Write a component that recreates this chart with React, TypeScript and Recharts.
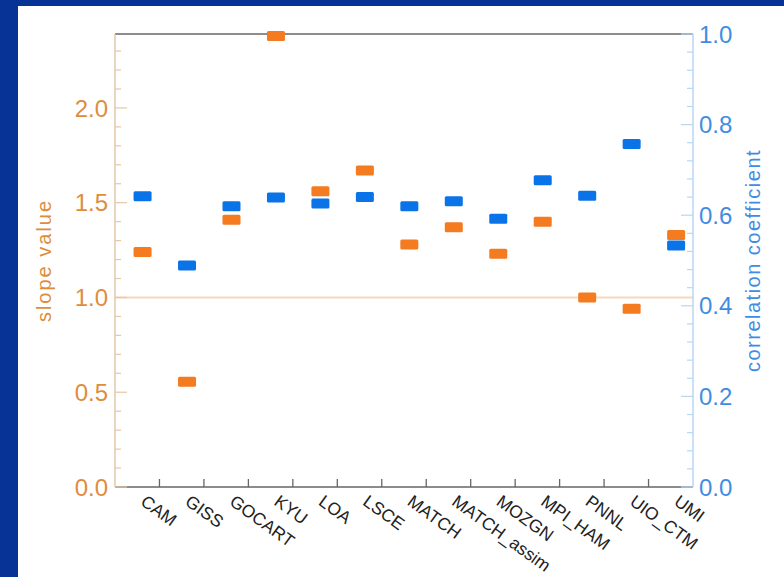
import React from "react";
import {
  ScatterChart,
  Scatter,
  XAxis,
  YAxis,
  ReferenceLine,
} from "recharts";

// models and their values
const models = [
  "CAM",
  "GISS",
  "GOCART",
  "KYU",
  "LOA",
  "LSCE",
  "MATCH",
  "MATCH_assim",
  "MOZGN",
  "MPI_HAM",
  "PNNL",
  "UIO_CTM",
  "UMI",
];
const slopeValues = [1.24, 0.555, 1.41, 2.38, 1.56, 1.67, 1.28, 1.37, 1.23, 1.4, 1.0, 0.94, 1.33];
const corrValues = [0.642, 0.489, 0.62, 0.639, 0.626, 0.64, 0.62, 0.631, 0.592, 0.677, 0.643, 0.757, 0.533];

const slopeMajor = [0, 0.5, 1.0, 1.5, 2.0];
const slopeTicks = [
  0, 0.1, 0.2, 0.3, 0.4, 0.5, 0.6, 0.7, 0.8, 0.9, 1.0, 1.1, 1.2, 1.3, 1.4, 1.5, 1.6, 1.7, 1.8, 1.9,
  2.0, 2.1, 2.2, 2.3,
];
const corrMajor = [0, 0.2, 0.4, 0.6, 0.8, 1.0];
const corrTicks = [
  0, 0.04, 0.08, 0.12, 0.16, 0.2, 0.24, 0.28, 0.32, 0.36, 0.4, 0.44, 0.48, 0.52, 0.56, 0.6, 0.64,
  0.68, 0.72, 0.76, 0.8, 0.84, 0.88, 0.92, 0.96, 1.0,
];
const boundaryTicks = [1, 2, 3, 4, 5, 6, 7, 8, 9, 10, 11, 12];

// marks sit a bit right of the band centre in the original
const OFFSET = 0.62;

const data = models.map((m, i) => ({
  model: m,
  pos: i + OFFSET,
  slope: slopeValues[i],
  corr: corrValues[i],
}));
const labelTicks = data.map((d) => d.pos);

const ORANGE = "#F47B20";
const BLUE = "#0B73E8";
const ORANGE_TXT = "#DE8D3C";
const BLUE_TXT = "#3F8DE2";
const FONT = "'Liberation Sans', Arial, sans-serif";

const isMajor = (v: number, list: number[]) => list.some((m) => Math.abs(m - v) < 1e-6);

const SlopeTick = (props: any) => {
  const { x, y, payload } = props;
  const v = payload.value;
  const major = isMajor(v, slopeMajor);
  return (
    <g>
      <line x1={x} x2={x + (major ? 12 : 6)} y1={y} y2={y} stroke="#E6C7A8" strokeWidth={1.2} />
      {major && (
        <text x={x - 7} y={y} dy="0.36em" textAnchor="end" fill={ORANGE_TXT} fontSize={24} fontFamily={FONT}>
          {v.toFixed(1)}
        </text>
      )}
    </g>
  );
};

const CorrTick = (props: any) => {
  const { x, y, payload } = props;
  const v = payload.value;
  const major = isMajor(v, corrMajor);
  return (
    <g>
      <line x1={x} x2={x - (major ? 12 : 6)} y1={y} y2={y} stroke="#B9D6F3" strokeWidth={1.2} />
      {major && (
        <text x={x + 6} y={y} dy="0.36em" textAnchor="start" fill={BLUE_TXT} fontSize={24} fontFamily={FONT}>
          {v.toFixed(1)}
        </text>
      )}
    </g>
  );
};

const BottomTick = (props: any) => {
  const { x, y, payload } = props;
  const v = payload.value;
  if (Number.isInteger(v)) {
    return <line x1={x} x2={x} y1={y} y2={y - 8} stroke="#666" strokeWidth={1.3} />;
  }
  const name = models[Math.round(v - OFFSET)];
  const tx = x - 3;
  const ty = y + 17;
  return (
    <text
      x={tx}
      y={ty}
      textAnchor="start"
      fill="#222"
      fontSize={17.5}
      fontFamily={FONT}
      transform={`rotate(36 ${tx} ${ty})`}
    >
      {name}
    </text>
  );
};

const TopTick = (props: any) => {
  const { x, y } = props;
  return <line x1={x} x2={x} y1={y} y2={y + 9} stroke="#555" strokeWidth={1.4} />;
};

const Mark = (color: string) => (props: any) => {
  const { cx, cy } = props;
  return <rect x={cx - 9} y={cy - 5} width={18} height={10} rx={1.5} fill={color} />;
};

export default function App() {
  return (
    <div style={{ position: "absolute", left: 0, top: 0, width: 784, height: 577, background: "#083396" }}>
      <div style={{ position: "absolute", left: 18, top: 6, width: 766, height: 571, background: "#fff" }}>
        <ScatterChart width={766} height={571} margin={{ top: 0, right: 0, bottom: 0, left: 0 }}>
          <XAxis
            xAxisId="b"
            type="number"
            dataKey="pos"
            domain={[0, 13]}
            ticks={[...boundaryTicks, ...labelTicks]}
            interval={0}
            height={90}
            tickSize={0}
            tickMargin={0}
            tickLine={false}
            axisLine={{ stroke: "#666", strokeWidth: 1.5 }}
            tick={<BottomTick />}
          />
          <XAxis
            xAxisId="t"
            orientation="top"
            type="number"
            domain={[0, 13]}
            ticks={boundaryTicks}
            interval={0}
            height={28}
            tickSize={0}
            tickMargin={0}
            tickLine={false}
            axisLine={{ stroke: "#666", strokeWidth: 1.5 }}
            tick={<TopTick />}
          />
          <YAxis
            yAxisId="s"
            type="number"
            domain={[0, 2.39]}
            ticks={slopeTicks}
            interval={0}
            width={97}
            tickSize={0}
            tickMargin={0}
            tickLine={false}
            axisLine={{ stroke: "#E6C7A8", strokeWidth: 1.5 }}
            tick={<SlopeTick />}
            label={{
              value: "slope value",
              angle: -90,
              position: "insideLeft",
              offset: 26,
              style: { fill: ORANGE_TXT, fontSize: 20, fontFamily: FONT, letterSpacing: 2, textAnchor: "middle" },
            }}
          />
          <YAxis
            yAxisId="c"
            orientation="right"
            type="number"
            domain={[0, 1]}
            ticks={corrTicks}
            interval={0}
            width={91}
            tickSize={0}
            tickMargin={0}
            tickLine={false}
            axisLine={{ stroke: "#B9D6F3", strokeWidth: 1.5 }}
            tick={<CorrTick />}
            label={{
              value: "correlation coefficient",
              angle: -90,
              position: "insideRight",
              offset: 31,
              style: { fill: BLUE_TXT, fontSize: 20, fontFamily: FONT, letterSpacing: 1.5, textAnchor: "middle" },
            }}
          />
          <ReferenceLine xAxisId="b" yAxisId="s" y={1} stroke="#F8D7BA" strokeWidth={2} />
          <Scatter
            name="slope"
            data={data}
            xAxisId="b"
            yAxisId="s"
            dataKey="slope"
            shape={Mark(ORANGE)}
            isAnimationActive={false}
          />
          <Scatter
            name="correlation"
            data={data.map((d) => ({ pos: d.pos, slope: d.corr }))}
            xAxisId="b"
            yAxisId="c"
            dataKey="slope"
            shape={Mark(BLUE)}
            isAnimationActive={false}
          />
        </ScatterChart>
      </div>
    </div>
  );
}
